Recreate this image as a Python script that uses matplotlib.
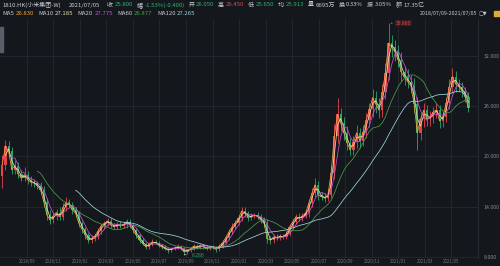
import numpy as np
import pandas as pd
import matplotlib
matplotlib.use("Agg")
import matplotlib.pyplot as plt

plt.rcParams["font.family"] = ["Noto Sans CJK SC", "DejaVu Sans"]

# ~weekly candles, 2018/07/09 - 2021/07/05
closes = [
    19.0, 21.2, 20.6, 18.4, 18.9, 17.9, 17.4, 17.8, 17.2, 16.9,
    16.8, 16.5, 16.0, 14.6, 13.0, 12.4, 12.9, 13.3, 12.8, 13.9,
    14.5, 14.2, 13.6, 13.2, 12.0, 11.3, 10.6, 10.0, 10.2, 10.5,
    11.1, 11.7, 12.0, 12.3, 11.8, 11.6, 11.9, 11.7, 11.9, 12.2,
    11.8, 11.2, 10.6, 10.0, 9.6, 9.2, 9.5, 9.8, 9.7, 9.4,
    9.2, 9.0, 8.8, 9.0, 9.1, 9.2, 9.0, 8.6, 8.8, 9.0,
    9.3, 9.1, 9.4, 9.2, 9.0, 9.2, 9.1, 8.9, 9.3, 9.7,
    10.3, 11.0, 11.6, 12.1, 12.6, 13.5, 13.2, 12.7, 12.9, 13.0,
    12.8, 12.4, 12.0, 10.2, 10.0, 10.4, 10.3, 10.5, 10.4, 10.8,
    11.6, 12.2, 12.8, 12.6, 12.9, 13.2, 14.4, 15.6, 16.6, 15.4,
    15.2, 15.0, 15.4, 18.0, 22.4, 25.0, 24.0, 22.8, 21.6, 20.8,
    21.7, 22.8, 21.8, 22.9, 24.3, 25.6, 27.0, 26.2, 25.5, 27.6,
    29.9, 33.5, 33.0, 32.4, 31.5, 30.0, 29.4, 28.9, 28.4, 26.2,
    22.8, 24.4, 25.5, 24.4, 24.7, 25.3, 25.5, 24.2, 24.7, 26.3,
    28.3, 29.5, 28.6, 28.3, 27.8, 27.1, 25.8,
]
first_open = 17.6
wick_up = [
    1.2, 0.8, 0.6, 0.5, 0.6, 0.4, 0.5, 0.9, 0.4, 0.4,
    0.4, 0.3, 0.4, 0.5, 0.4, 0.6, 0.5, 0.4, 0.6, 0.5,
    0.6, 0.4, 0.4, 0.3, 0.3, 0.3, 0.3, 0.3, 0.4, 0.3,
    0.3, 0.4, 0.3, 0.4, 0.3, 0.3, 0.3, 0.4, 0.3, 0.3,
    0.3, 0.2, 0.3, 0.2, 0.3, 0.2, 0.3, 0.3, 0.2, 0.2,
    0.2, 0.2, 0.2, 0.2, 0.2, 0.3, 0.2, 0.2, 0.2, 0.2,
    0.3, 0.2, 0.2, 0.2, 0.2, 0.2, 0.2, 0.2, 0.2, 0.3,
    0.3, 0.3, 0.4, 0.3, 0.4, 0.5, 0.4, 0.3, 0.4, 0.3,
    0.4, 0.3, 0.4, 0.5, 0.3, 0.3, 0.3, 0.3, 0.3, 0.3,
    0.3, 0.3, 0.3, 0.4, 0.3, 0.4, 0.5, 0.6, 0.8, 0.5,
    0.4, 0.4, 0.5, 0.9, 1.4, 2.0, 0.8, 0.7, 0.8, 0.6,
    0.7, 0.9, 0.6, 0.8, 0.9, 0.8, 1.0, 0.8, 0.8, 1.0,
    1.2, 2.36, 1.0, 0.9, 0.8, 0.9, 0.8, 1.0, 0.8, 0.9,
    0.9, 0.7, 0.8, 0.6, 0.7, 0.6, 0.8, 0.6, 0.7, 0.8,
    0.9, 1.0, 0.7, 0.6, 0.6, 0.5, 0.6,
]
wick_dn = [
    1.4, 0.6, 0.6, 0.5, 0.5, 0.5, 0.4, 0.4, 0.5, 0.4,
    0.4, 0.4, 0.5, 0.6, 0.6, 0.5, 0.4, 0.5, 0.4, 0.4,
    0.4, 0.4, 0.5, 0.4, 0.4, 0.4, 0.4, 0.3, 0.3, 0.3,
    0.3, 0.3, 0.4, 0.3, 0.4, 0.3, 0.3, 0.3, 0.3, 0.4,
    0.3, 0.3, 0.3, 0.3, 0.2, 0.3, 0.2, 0.2, 0.2, 0.2,
    0.2, 0.2, 0.3, 0.2, 0.2, 0.2, 0.2, 0.32, 0.2, 0.2,
    0.2, 0.2, 0.2, 0.2, 0.2, 0.2, 0.2, 0.3, 0.2, 0.2,
    0.2, 0.3, 0.3, 0.3, 0.3, 0.3, 0.4, 0.4, 0.3, 0.3,
    0.3, 0.4, 0.4, 0.5, 0.4, 0.3, 0.3, 0.3, 0.3, 0.3,
    0.3, 0.3, 0.3, 0.3, 0.3, 0.3, 0.4, 0.4, 0.5, 0.6,
    0.4, 0.4, 0.3, 0.4, 0.7, 0.8, 1.0, 0.8, 0.8, 0.7,
    0.6, 0.7, 0.8, 0.6, 0.7, 0.8, 0.9, 1.0, 0.9, 0.8,
    0.8, 0.8, 1.2, 1.0, 0.9, 1.0, 0.9, 0.8, 0.9, 1.0,
    2.1, 0.8, 0.9, 0.8, 0.8, 0.7, 0.7, 0.8, 0.7, 0.6,
    0.7, 0.8, 0.9, 0.7, 0.7, 0.6, 0.5,
]
# moving-average windows in candles (one candle ~ 5 trading days)
ma_names = ["MA5", "MA10", "MA20", "MA60", "MA120"]
ma_windows = [1, 2, 4, 12, 24]
ma_values = ["26.830", "27.185", "27.775", "26.877", "27.265"]
ma_colors = ["#f0a23a", "#e6dfae", "#c84fd2", "#4f9a4f", "#9fd6da"]

x_labels = ["2018/09", "2018/11", "2019/01", "2019/03", "2019/05", "2019/07",
            "2019/09", "2019/11", "2020/01", "2020/03", "2020/05", "2020/07",
            "2020/09", "2020/11", "2021/01", "2021/03", "2021/05"]
y_ticks = [8, 14, 20, 26, 32]
max_label, min_label = "35.860", "8.280"

BG = "#14171c"
GRID = "#242830"
UP, DOWN = "#e2454a", "#27a86a"
TXT = "#c9ccd1"

df = pd.DataFrame({"close": closes})
df["open"] = df["close"].shift(1).fillna(first_open)
df["high"] = df[["open", "close"]].max(axis=1) + np.array(wick_up)
df["low"] = df[["open", "close"]].min(axis=1) - np.array(wick_dn)
idx = np.arange(len(df))

fig = plt.figure(figsize=(5, 2.66), dpi=100, facecolor=BG)
ax = fig.add_axes([0.0, 0.03, 0.956, 0.899], facecolor=BG)

up = df["close"] >= df["open"]
col = np.where(up, UP, DOWN)
ax.vlines(idx, df["low"], df["high"], colors=col, lw=0.6, zorder=2)
ax.bar(idx, (df["close"] - df["open"]).abs().clip(lower=0.06),
       bottom=df[["open", "close"]].min(axis=1), width=0.7, color=col,
       lw=0, zorder=3)

for w, c in zip(ma_windows, ma_colors):
    ax.plot(idx, df["close"].rolling(w).mean(), color=c, lw=0.55, zorder=4)

# max / min markers
imax = int(df["high"].idxmax())
imin = int(df["low"].idxmin())
ax.annotate(max_label, xy=(imax, df["high"][imax]), xytext=(imax + 2.2, df["high"][imax]),
            color=UP, fontsize=3.6, va="center", ha="left",
            bbox=dict(boxstyle="square,pad=0.15", fc="#3b1b20", ec="none"),
            arrowprops=dict(arrowstyle="-", color="#d0d0d0", lw=0.5))
ax.annotate(min_label, xy=(imin, df["low"][imin]), xytext=(imin + 2.3, df["low"][imin] - 0.05),
            color=DOWN, fontsize=3.6, va="center", ha="left",
            arrowprops=dict(arrowstyle="-", color="#d0d0d0", lw=0.5))

ax.set_xlim(-0.7, len(df) - 1 + 3.0)
ax.set_ylim(7.88, 36.37)

# vertical grid about every two months, labels underneath
grid_x = [(26.6 * k - 2) / 3.2 for k in range(1, len(x_labels) + 1)]
ax.set_xticks(grid_x)
ax.set_xticklabels(x_labels)
ax.tick_params(axis="x", length=0, pad=0.6, labelsize=3.2, colors="#70757d")
ax.set_yticks(y_ticks)
ax.set_yticklabels([f"{v:.3f}" for v in y_ticks])
ax.yaxis.tick_right()
ax.tick_params(axis="y", length=0, pad=4, labelsize=3.8, colors="#858a92")
ax.grid(True, color=GRID, lw=0.6)
for s in ["top", "left", "bottom"]:
    ax.spines[s].set_visible(False)
ax.spines["right"].set_color("#2a2e36")
ax.spines["right"].set_linewidth(0.6)

# header rows
fig.canvas.draw()
rend = fig.canvas.get_renderer()


def row(items, x0, y, fs=4.3):
    x = x0
    for s, c, gap in items:
        t = fig.text(x / 500, 1 - y / 266, s, color=c, fontsize=fs, va="center", ha="left")
        x += t.get_window_extent(rend).width + gap


G = "#2cb36d"
row([("1810.HK(小米集团-W)", TXT, 8), ("2021/07/05", TXT, 7),
     ("收", TXT, 1.5), ("25.800", G, 4), ("幅", TXT, 1.5), ("-1.53%(-0.400)", G, 4),
     ("开", TXT, 1.5), ("26.050", G, 4), ("高", TXT, 1.5), ("26.450", UP, 4),
     ("低", TXT, 1.5), ("25.650", G, 4), ("均", TXT, 1.5), ("25.913", G, 4),
     ("量", TXT, 1.5), ("6695万", TXT, 4), ("换", TXT, 1.5), ("0.33%", TXT, 4),
     ("振", TXT, 1.5), ("3.05%", TXT, 4), ("额", TXT, 1.5), ("17.35亿", TXT, 4)],
    2, 5)
row([item for n, v, c in zip(ma_names, ma_values, ma_colors)
     for item in ((n, TXT, 1.5), (v, c, 4.5))], 2, 13.5)
fig.text(477 / 500, 1 - 13.5 / 266, "2018/07/09-2021/07/05", color=TXT, fontsize=3.8,
         va="center", ha="right")
fig.text(479 / 500, 1 - 13.5 / 266, "▢▼", color=TXT, fontsize=3.6, va="center", ha="left",
         family=["DejaVu Sans"])
fig.patches.append(plt.Rectangle((494 / 500, 1 - 16 / 266), 5 / 500, 5 / 266,
                                 transform=fig.transFigure, color="#e0a93a"))
# collapsed side tab at the left edge
fig.patches.append(plt.Rectangle((0, 1 - 52 / 266), 3 / 500, 25 / 266,
                                 transform=fig.transFigure, color="#5a5e66"))

fig.savefig("out.png", dpi=100, facecolor=BG)
